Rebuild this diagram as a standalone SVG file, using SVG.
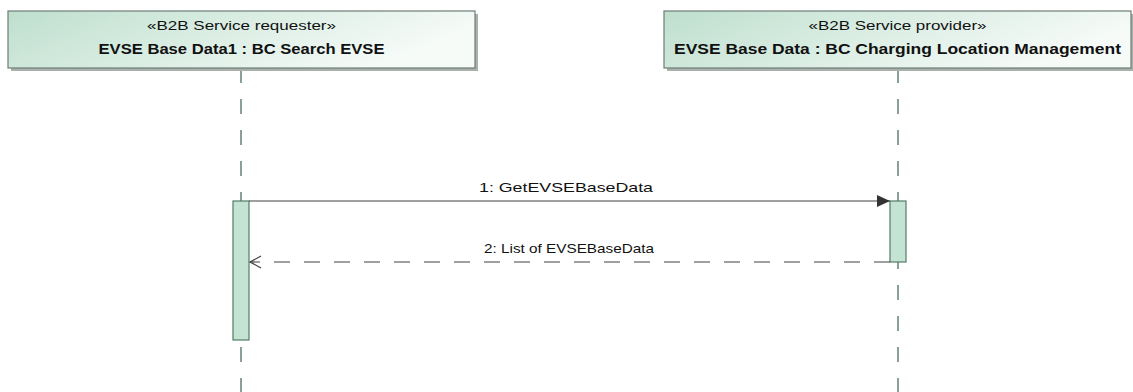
<svg xmlns="http://www.w3.org/2000/svg" width="1133" height="392" viewBox="0 0 1133 392">
  <style>
    .head { stroke: #6e7d77; stroke-width: 1.2; }
    .shadow { fill: #a9b1ad; }
    .stereo { font-family: "Liberation Sans", Arial, sans-serif; font-size: 13px; fill: #111; text-anchor: middle; }
    .name { font-family: "Liberation Sans", Arial, sans-serif; font-size: 15px; font-weight: bold; fill: #111; text-anchor: middle; }
    .lifeline { stroke: #4f6d64; stroke-width: 1.3; stroke-dasharray: 15 16; fill: none; }
    .act { fill: #c3e3d3; stroke: #557a6b; stroke-width: 1.2; }
    .msg { stroke: #404040; stroke-width: 1.2; fill: none; }
    .reply { stroke: #404040; stroke-width: 1.2; fill: none; stroke-dasharray: 16 14; }
    .label { font-family: "Liberation Sans", Arial, sans-serif; font-size: 13.5px; fill: #111; text-anchor: middle; }
  </style>
  <defs>
    <linearGradient id="headFill" x1="0" y1="0" x2="1" y2="0.3">
      <stop offset="0" stop-color="#bedfce"/>
      <stop offset="1" stop-color="#f6fbf8"/>
    </linearGradient>
    <marker id="filled" markerWidth="14" markerHeight="12" refX="13" refY="6" orient="auto" markerUnits="userSpaceOnUse">
      <path d="M0,0 L13,6 L0,12 Z" fill="#333"/>
    </marker>
    <marker id="open" markerWidth="14" markerHeight="14" refX="12" refY="7" orient="auto" markerUnits="userSpaceOnUse">
      <path d="M1,1 L12,7 L1,13" fill="none" stroke="#404040" stroke-width="1.2"/>
    </marker>
  </defs>

  <rect width="1133" height="392" fill="#ffffff"/>

  <!-- lifelines and activations -->
  <g id="requester">
    <line class="lifeline" x1="241" y1="68" x2="241" y2="392"/>
    <rect class="shadow" x="11" y="14" width="467" height="57"/>
    <rect class="head" x="8" y="11" width="467" height="57" fill="url(#headFill)"/>
    <text class="stereo" x="241.5" y="30" textLength="189" lengthAdjust="spacingAndGlyphs">«B2B Service requester»</text>
    <text class="name" x="241.5" y="54" textLength="286" lengthAdjust="spacingAndGlyphs">EVSE Base Data1 : BC Search EVSE</text>
    <rect class="act" x="233" y="201" width="16" height="139"/>
  </g>

  <g id="provider">
    <line class="lifeline" x1="898" y1="68" x2="898" y2="392"/>
    <rect class="shadow" x="667" y="14" width="468" height="57"/>
    <rect class="head" x="664" y="11" width="467" height="57" fill="url(#headFill)"/>
    <text class="stereo" x="897.5" y="30" textLength="178" lengthAdjust="spacingAndGlyphs">«B2B Service provider»</text>
    <text class="name" x="897.5" y="54" textLength="447" lengthAdjust="spacingAndGlyphs">EVSE Base Data : BC Charging Location Management</text>
    <rect class="act" x="890" y="201" width="16" height="61"/>
  </g>

  <!-- messages -->
  <g id="connectors">
    <line class="msg" x1="249" y1="201" x2="890" y2="201" marker-end="url(#filled)"/>
    <text class="label" x="566" y="192" textLength="174" lengthAdjust="spacingAndGlyphs">1:  GetEVSEBaseData</text>
    <line class="reply" x1="890" y1="262" x2="250" y2="262" marker-end="url(#open)"/>
    <text class="label" x="569" y="253" textLength="170" lengthAdjust="spacingAndGlyphs">2:  List of EVSEBaseData</text>
  </g>
</svg>
